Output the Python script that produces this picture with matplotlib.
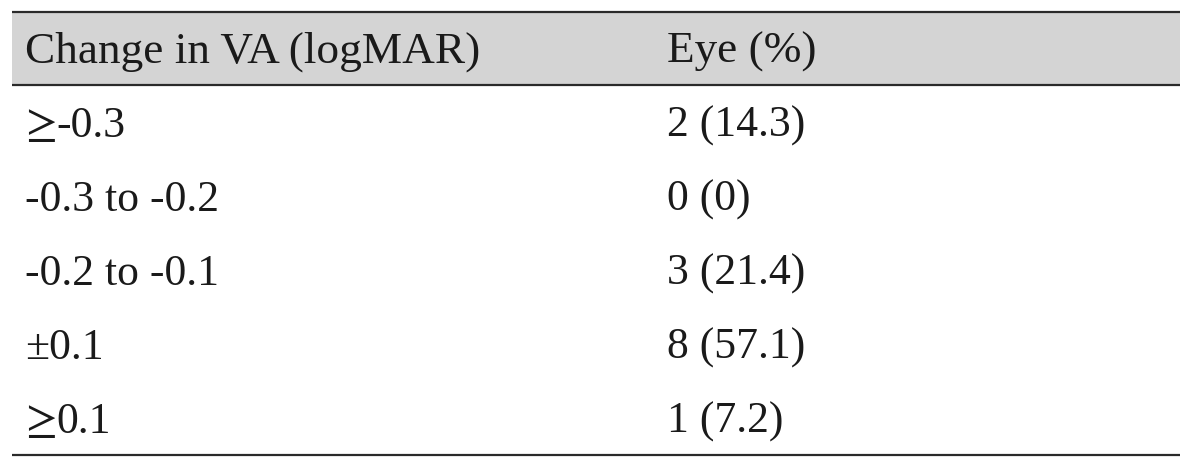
import matplotlib
matplotlib.use("Agg")
import matplotlib.pyplot as plt
from matplotlib.patches import Rectangle

headers = ["Change in VA (logMAR)", "Eye (%)"]
changes = ["≥-0.3", "-0.3 to -0.2", "-0.2 to -0.1", "±0.1", "≥0.1"]
eyes = ["2 (14.3)", "0 (0)", "3 (21.4)", "8 (57.1)", "1 (7.2)"]

W, H = 1200, 468
fig = plt.figure(figsize=(W / 100, H / 100), dpi=100)
ax = fig.add_axes([0, 0, 1, 1])
ax.set_xlim(0, W)
ax.set_ylim(H, 0)
ax.axis("off")

left, right = 12, 1180
top, head_bot, bottom = 11.5, 85, 454.5
col_x = [25, 667]
fam = ["Liberation Serif", "DejaVu Serif"]
sym_fam = ["STIXGeneral", "Liberation Serif"]
head_font = dict(family=fam, fontsize=32.6, color="#1a1a1a", va="baseline", ha="left")
body_font = dict(family=fam, fontsize=31.5, color="#1a1a1a", va="baseline", ha="left")
sym_font = dict(family=sym_fam, fontsize=33, color="#1a1a1a", va="baseline", ha="left")

ax.add_patch(Rectangle((left, top), right - left, head_bot - top, facecolor="#d4d4d4", edgecolor="none"))
for y in (top, head_bot, bottom):
    ax.plot([left, right], [y, y], color="#2a2a2a", lw=1.6, solid_capstyle="butt")

for x, h in zip(col_x, headers):
    ax.text(x, 63, h, **head_font)

renderer = fig.canvas.get_renderer()


def draw_label(x, y, s):
    if s and s[0] in "≥":
        t = ax.text(x, y, s[0], **sym_font)
        bb = t.get_window_extent(renderer=renderer)
        inv = ax.transData.inverted()
        x0 = inv.transform((bb.x0, bb.y0))[0]
        x1 = inv.transform((bb.x1, bb.y0))[0]
        ax.text(x + (x1 - x0), y, s[1:], **body_font)
    else:
        ax.text(x, y, s, **body_font)


row_y0, row_step = 137, 74
for i, (c, e) in enumerate(zip(changes, eyes)):
    y = row_y0 + i * row_step
    draw_label(col_x[0], y, c)
    ax.text(col_x[1], y, e, **body_font)

fig.savefig("out.png", dpi=100)
